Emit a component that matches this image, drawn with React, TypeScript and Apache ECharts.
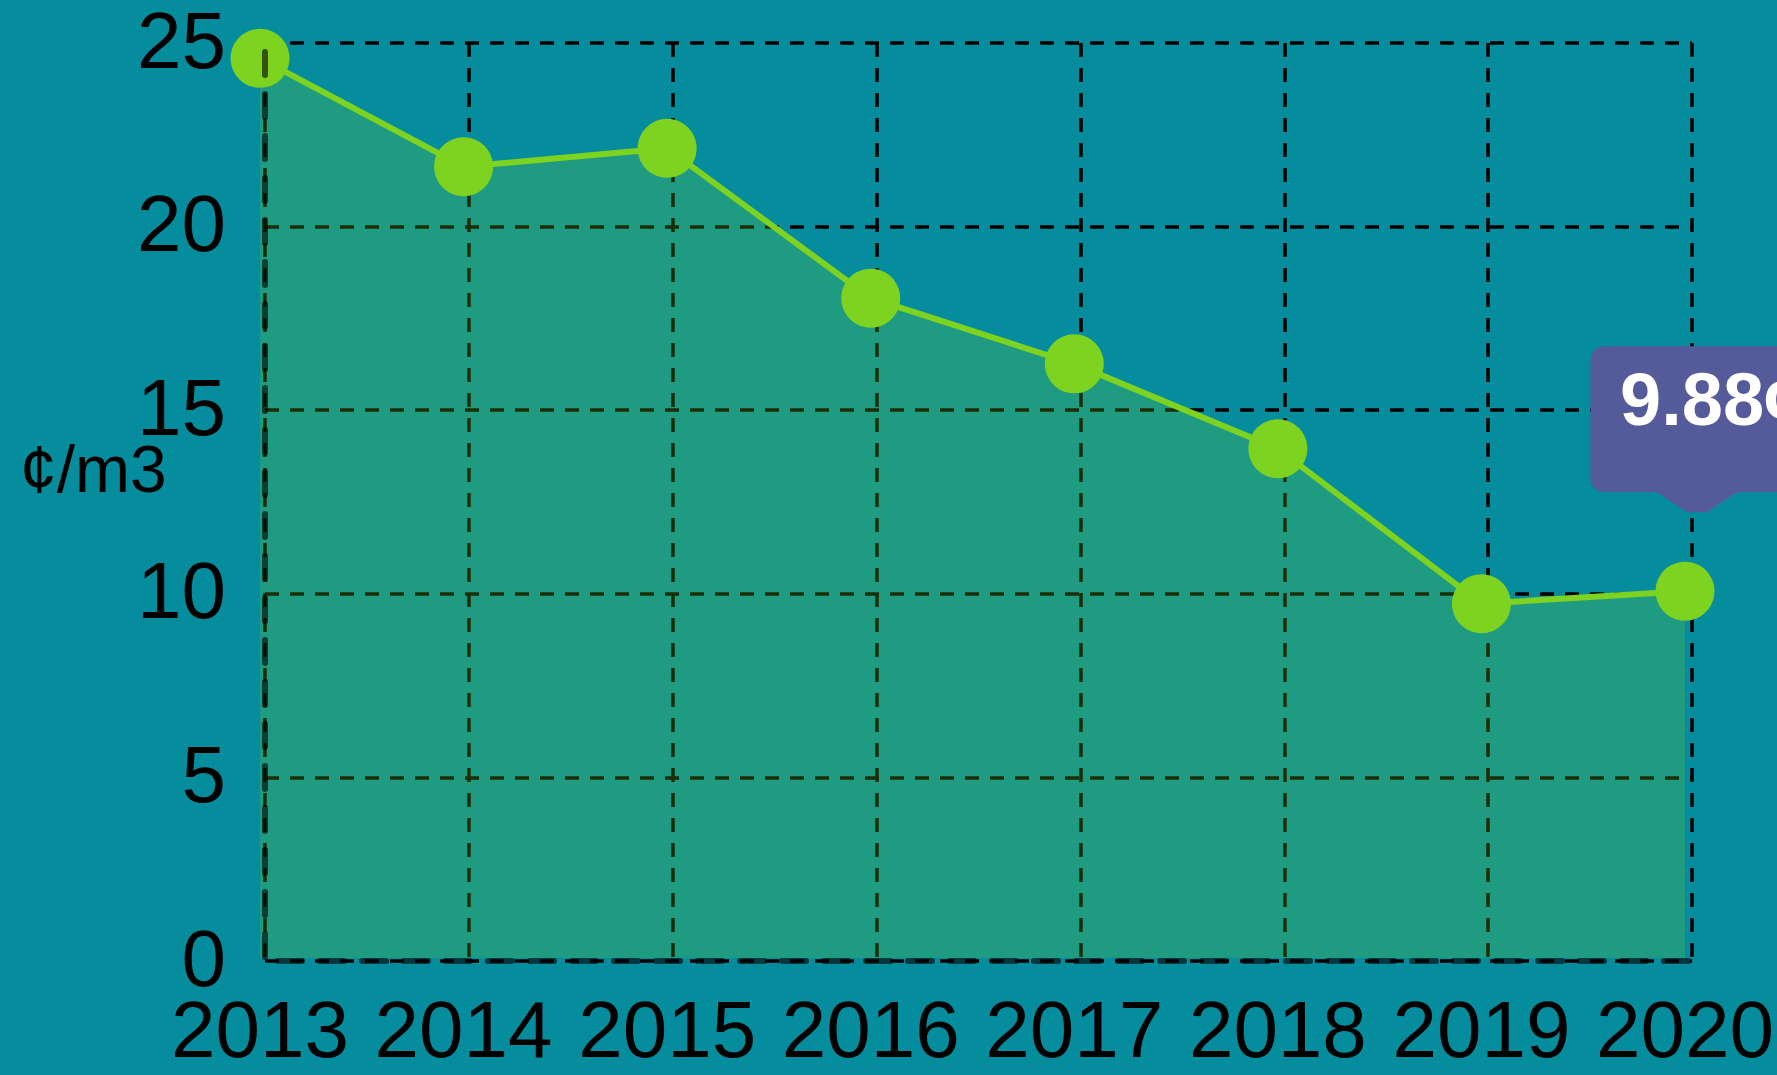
import React, { useEffect, useRef } from 'react';
import * as echarts from 'echarts';

const years = ['2013', '2014', '2015', '2016', '2017', '2018', '2019', '2020'];
const prices = [24.5, 21.55, 22.05, 17.97, 16.18, 13.87, 9.65, 9.99];
const yMin = 0;
const yMax = 25;
const yStep = 5;
const unitLabel = '¢/m3';
const calloutText = '9.88¢';
const calloutIndex = 7;

const FONT = '"Liberation Sans", Arial, Helvetica, sans-serif';
const GREEN = '#7ed321';

export default function App() {
  const ref = useRef<HTMLDivElement>(null);

  useEffect(() => {
    document.body.style.margin = '0';
    const chart = echarts.init(ref.current as HTMLDivElement, null, { renderer: 'svg' });

    const valueAxis = (gridIndex: number, extra: any) => ({
      gridIndex,
      type: 'value',
      min: yMin,
      max: yMax,
      interval: yStep,
      axisTick: { show: false },
      ...extra,
    });
    const catAxis = (gridIndex: number, extra: any) => ({
      gridIndex,
      type: 'category',
      data: years,
      boundaryGap: false,
      axisTick: { show: false },
      ...extra,
    });

    const option: any = {
      animation: false,
      backgroundColor: '#058c9d',
      grid: [
        { left: 260, right: 90, top: 40, bottom: 117 },
        { left: 265, right: 85, top: 43, bottom: 114 },
        { left: 265, right: 85, top: 43, bottom: 114 },
      ],
      xAxis: [
        catAxis(0, {
          axisLine: { show: false },
          splitLine: { show: false },
          axisLabel: { interval: 0, fontSize: 80, color: '#000', margin: 31, fontFamily: FONT, hideOverlap: false },
        }),
        catAxis(1, {
          axisLine: { show: false },
          axisLabel: { show: false },
          splitLine: { show: true, interval: 0, lineStyle: { color: '#000', width: 3.5, type: [14, 11] } },
        }),
        catAxis(2, {
          z: 5,
          axisLabel: { show: false },
          splitLine: { show: false },
          axisLine: {
            show: true,
            onZero: false,
            lineStyle: { color: 'rgba(0,0,0,0.6)', width: 6, type: [24, 18], dashOffset: 29 },
          },
        }),
      ],
      yAxis: [
        valueAxis(0, {
          axisLine: { show: false },
          splitLine: { show: false },
          axisLabel: { fontSize: 80, color: '#000', margin: 34, fontFamily: FONT },
        }),
        valueAxis(1, {
          axisLine: { show: false },
          axisLabel: { show: false },
          splitLine: { show: true, lineStyle: { color: '#000', width: 3.5, type: [14, 11] } },
        }),
        valueAxis(2, {
          z: 5,
          axisLabel: { show: false },
          splitLine: { show: false },
          axisLine: {
            show: true,
            onZero: false,
            lineStyle: { color: 'rgba(0,0,0,0.6)', width: 6, type: [23, 19], dashOffset: 38 },
          },
        }),
      ],
      series: [
        {
          type: 'line',
          xAxisIndex: 0,
          yAxisIndex: 0,
          data: prices,
          symbol: 'circle',
          symbolSize: 59,
          lineStyle: { color: GREEN, width: 6 },
          itemStyle: { color: GREEN },
          areaStyle: { color: GREEN, opacity: 0.22 },
          z: 2,
        },
      ],
    };

    chart.setOption(option);

    const p = chart.convertToPixel({ seriesIndex: 0 }, [calloutIndex, prices[calloutIndex]]) as number[];
    const px = p[0];
    const py = p[1];

    chart.setOption({
      graphic: [
        {
          type: 'text',
          x: 20,
          y: 469,
          style: { text: unitLabel, font: `66px ${FONT}`, fill: '#000', verticalAlign: 'middle', align: 'left' },
        },
        {
          type: 'group',
          z: 100,
          children: [
            {
              type: 'rect',
              shape: { x: px - 94.5, y: py - 245, width: 240, height: 146, r: 14 },
              style: { fill: '#555a9b' },
            },
            {
              type: 'polygon',
              shape: {
                points: [
                  [px - 29.5, py - 100],
                  [px + 53.5, py - 100],
                  [px + 22, py - 79],
                  [px + 2, py - 79],
                ],
              },
              style: { fill: '#555a9b' },
            },
            {
              type: 'text',
              x: px - 65,
              y: py - 192,
              style: {
                text: calloutText,
                font: `bold 74px ${FONT}`,
                fill: '#fff',
                verticalAlign: 'middle',
                align: 'left',
              },
            },
          ],
        },
      ],
    });

    return () => {
      chart.dispose();
    };
  }, []);

  return <div ref={ref} style={{ width: 1777, height: 1075 }} />;
}
